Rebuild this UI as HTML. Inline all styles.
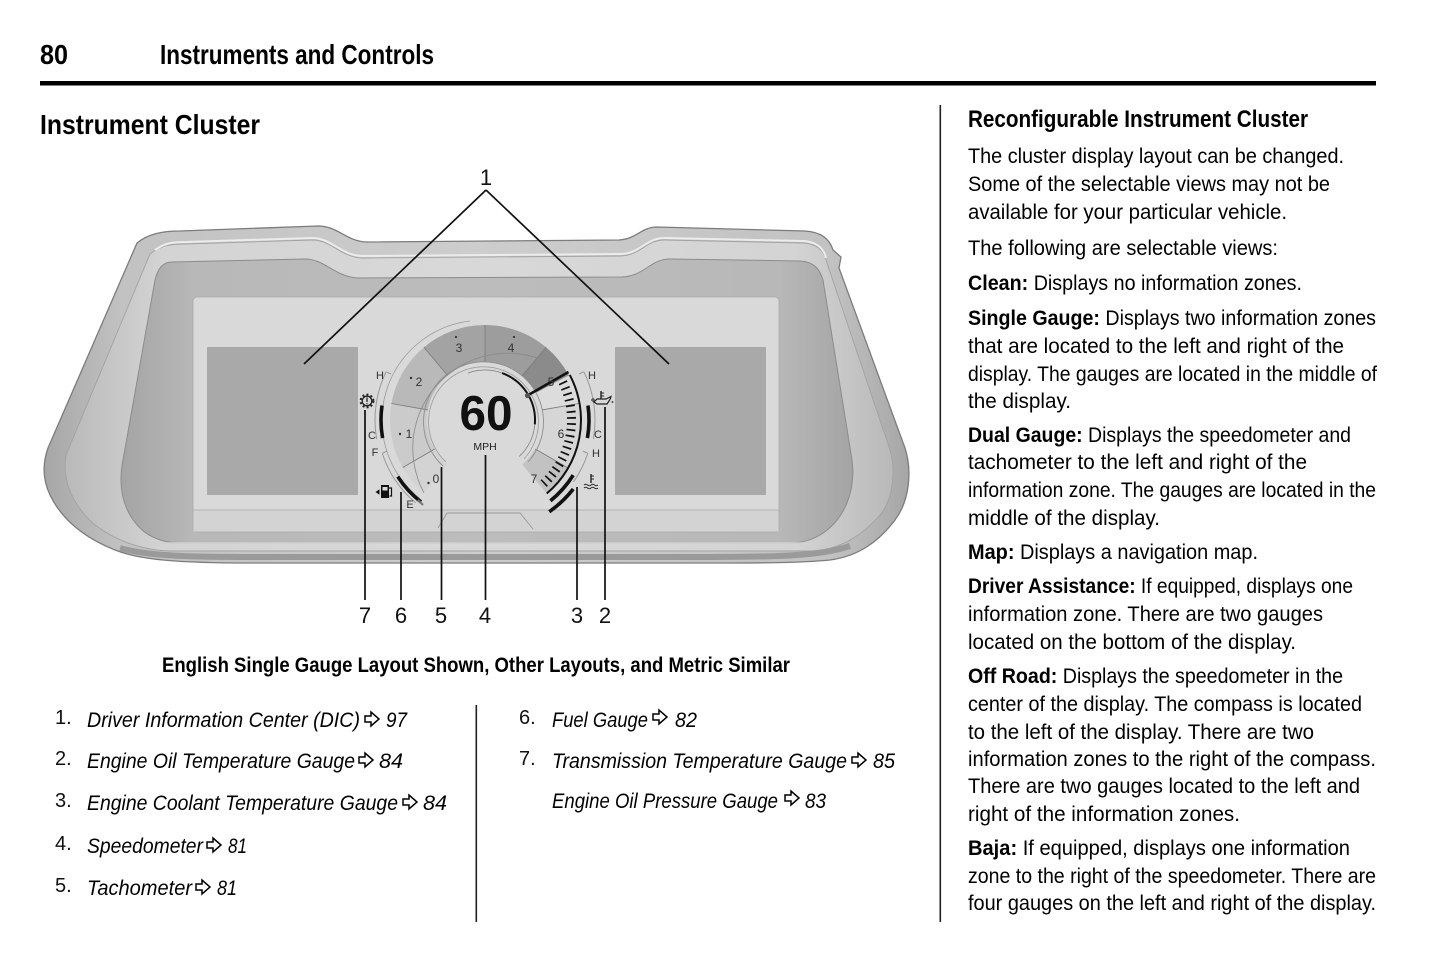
<!DOCTYPE html>
<html>
<head>
<meta charset="utf-8">
<style>
html,body{margin:0;padding:0;background:#fff;}
svg{display:block;}
text{font-family:"Liberation Sans", Arial, sans-serif;}
</style>
</head>
<body>
<svg width="1445" height="957" viewBox="0 0 1445 957" xmlns="http://www.w3.org/2000/svg">
<defs>
  <linearGradient id="bz" x1="0" y1="0" x2="1" y2="0">
    <stop offset="0" stop-color="#a6a6a6"/>
    <stop offset="0.09" stop-color="#c2c2c2"/>
    <stop offset="0.5" stop-color="#cdcdcd"/>
    <stop offset="0.91" stop-color="#c2c2c2"/>
    <stop offset="1" stop-color="#a6a6a6"/>
  </linearGradient>
  <linearGradient id="rim" x1="0" y1="0" x2="1" y2="0">
    <stop offset="0" stop-color="#b9b9b9"/>
    <stop offset="0.12" stop-color="#d4d4d4"/>
    <stop offset="0.5" stop-color="#d8d8d8"/>
    <stop offset="0.88" stop-color="#d4d4d4"/>
    <stop offset="1" stop-color="#b9b9b9"/>
  </linearGradient>
  <linearGradient id="cav" x1="0" y1="0" x2="1" y2="0">
    <stop offset="0" stop-color="#a4a4a4"/>
    <stop offset="0.1" stop-color="#b8b8b8"/>
    <stop offset="0.5" stop-color="#bcbcbc"/>
    <stop offset="0.9" stop-color="#b8b8b8"/>
    <stop offset="1" stop-color="#a4a4a4"/>
  </linearGradient>
</defs>

<!-- Header -->
<text x="40" y="64" font-size="28" font-weight="bold" textLength="28" lengthAdjust="spacingAndGlyphs">80</text>
<text x="160" y="64" font-size="28" font-weight="bold" textLength="274" lengthAdjust="spacingAndGlyphs">Instruments and Controls</text>
<rect x="40" y="81" width="1336" height="4.5" fill="#000"/>
<text x="40" y="134" font-size="28" font-weight="bold" textLength="220" lengthAdjust="spacingAndGlyphs">Instrument Cluster</text>

<!-- Column rules -->
<rect x="939.5" y="105" width="1.6" height="817" fill="#222"/>
<rect x="475.5" y="705" width="1.6" height="217" fill="#222"/>

<!-- ================= CLUSTER ILLUSTRATION ================= -->
<!-- outer bezel -->
<path d="M137,243 C148,234 162,231 180,231 L318,226 C338,226 346,241 366,242 L619,240 C637,239 641,227 657,227 L805,231 C822,232 830,240 833,250 L841,257 L839,268 L905,448 C912,470 910,500 895,520 C880,540 860,556 830,560 C800,563 760,563 700,563 L250,563 C180,563 140,560 115,550 C85,538 62,520 50,495 C42,478 43,462 48,448 Z" fill="url(#bz)" stroke="#7c7c7c" stroke-width="1.3"/>
<!-- rim -->
<path d="M150,254 C160,246 170,244 185,244 L312,240 C332,240 340,257 362,258 L620,256 C640,256 646,240 664,240 L803,243 C818,244 824,251 826,260 L890,450 C896,470 893,500 880,515 C865,532 845,548 815,551 L170,551 C140,550 115,540 95,525 C72,505 62,480 66,455 Z" fill="url(#rim)" stroke="#a2a2a2" stroke-width="0.9"/>
<path d="M155,250 C165,243 172,242 186,242 L312,238 C332,238 340,255 362,256 L620,254 C640,254 646,238 664,238 L803,241 C818,242 824,249 826,258" fill="none" stroke="#ececec" stroke-width="2"/>
<!-- bottom dark band -->
<path d="M120,548 C150,557 200,557 260,557 L700,557 C780,557 820,556 850,546" fill="none" stroke="#9a9a9a" stroke-width="6"/>
<!-- cavity -->
<path d="M172,262 L305,259 C325,259 335,277 358,278 L622,277 C645,276 650,259 670,259 L800,261 C815,262 820,270 823,280 L852,460 C856,490 845,520 820,535 C810,541 800,543 790,543 L180,543 C165,543 150,538 140,528 C122,510 118,485 123,460 L155,280 C158,268 163,262 172,262 Z" fill="url(#cav)" stroke="#8c8c8c" stroke-width="1"/>
<line x1="150" y1="543" x2="810" y2="543" stroke="#cfcfcf" stroke-width="1.5"/>

<!-- screen -->
<rect x="193" y="297" width="586" height="235" rx="4" fill="#d9d9d9" stroke="#a9a9a9" stroke-width="0.8"/>
<rect x="193.5" y="510" width="585" height="21.5" fill="#d3d3d3"/>
<line x1="193" y1="510" x2="779" y2="510" stroke="#b3b3b3" stroke-width="1"/>
<polyline points="438,528 447,513 520,513 533,529" fill="none" stroke="#9a9a9a" stroke-width="0.9"/>

<!-- DIC zones -->
<rect x="207" y="347" width="151" height="148" fill="#a9a9a9"/>
<rect x="615" y="347" width="151" height="148" fill="#a9a9a9"/>

<!-- tach band segments (center 485,420; r 58..95) -->
<path d="M423.93,492.77 A95,95 0 0 1 402.73,467.5 L434.77,449 A58,58 0 0 0 447.72,464.43 Z" fill="#d3d3d3"/>
<path d="M402.73,467.5 A95,95 0 0 1 391.44,403.51 L427.88,409.93 A58,58 0 0 0 434.77,449 Z" fill="#cbcbcb"/>
<path d="M391.44,403.51 A95,95 0 0 1 423.93,347.23 L447.72,375.57 A58,58 0 0 0 427.88,409.93 Z" fill="#b9b9b9"/>
<path d="M423.93,347.23 A95,95 0 0 1 485,325 L485,362 A58,58 0 0 0 447.72,375.57 Z" fill="#a3a3a3"/>
<path d="M485,325 A95,95 0 0 1 546.07,347.23 L522.28,375.57 A58,58 0 0 0 485,362 Z" fill="#9d9d9d"/>
<path d="M546.07,347.23 A95,95 0 0 1 568.88,375.40 L536.21,392.77 A58,58 0 0 0 522.28,375.57 Z" fill="#8b8b8b"/>
<path d="M568.88,375.40 A95,95 0 0 1 578.56,403.51 L542.12,409.93 A58,58 0 0 0 536.21,392.77 Z" fill="#dcdcdc"/>
<path d="M578.56,403.51 A95,95 0 0 1 567.27,467.5 L535.23,449 A58,58 0 0 0 542.12,409.93 Z" fill="#d6d6d6"/>
<path d="M567.27,467.5 A95,95 0 0 1 546.07,492.77 L522.28,464.43 A58,58 0 0 0 535.23,449 Z" fill="#c2c2c2"/>

<!-- dividers -->
<g stroke="#7a7a7a" stroke-width="0.8">
  <line x1="402.73" y1="467.5" x2="434.77" y2="449"/>
  <line x1="391.44" y1="403.51" x2="427.88" y2="409.93"/>
  <line x1="423.93" y1="347.23" x2="447.72" y2="375.57"/>
  <line x1="485" y1="325" x2="485" y2="362"/>
  <line x1="546.07" y1="347.23" x2="522.28" y2="375.57"/>
  <line x1="578.56" y1="403.51" x2="542.12" y2="409.93"/>
  <line x1="567.27" y1="467.5" x2="535.23" y2="449"/>
</g>
<!-- band outlines -->
<path d="M423.93,492.77 A95,95 0 0 1 568.88,375.40" fill="none" stroke="#8a8a8a" stroke-width="0.8"/>
<path d="M419,498 A100,100 0 0 1 470,321" fill="none" stroke="#9a9a9a" stroke-width="0.8"/>
<path d="M443,466 A60,60 0 1 1 528,462" fill="none" stroke="#8f8f8f" stroke-width="0.9"/>
<path d="M446,462 A55,55 0 1 1 524,459" fill="none" stroke="#a0a0a0" stroke-width="0.9"/>

<!-- redline hash marks -->
<path d="M562.75,382.08 A86.5,86.5 0 0 1 540.6,486.26" fill="none" stroke="#111" stroke-width="9" stroke-dasharray="1.7 4.35"/>
<!-- right outer black arc -->
<path d="M569.76,374.93 A96,96 0 0 1 546.71,493.54" fill="none" stroke="#111" stroke-width="2"/>

<!-- speed indicator arcs -->
<path d="M467.9,373.02 A50,50 0 0 1 502.1,373.02" fill="none" stroke="#8a8a8a" stroke-width="0.9"/>
<path d="M502.1,373.02 A50,50 0 0 1 534.81,424.36" fill="none" stroke="#111" stroke-width="2"/>
<path d="M534.81,424.36 A50,50 0 0 1 519.1,456.57" fill="none" stroke="#8a8a8a" stroke-width="0.9"/>
<!-- needle -->
<line x1="528.3" y1="395" x2="568.5" y2="372" stroke="#111" stroke-width="2.6"/>
<circle cx="527.5" cy="395.5" r="2.6" fill="#555"/>

<!-- tach labels -->
<g font-size="12" fill="#333" text-anchor="middle">
  <text x="436" y="483">0</text>
  <text x="409" y="438">1</text>
  <text x="419" y="386">2</text>
  <text x="459" y="352">3</text>
  <text x="511" y="352">4</text>
  <text x="551" y="386">5</text>
  <text x="561" y="438">6</text>
  <text x="534" y="483">7</text>
</g>
<g fill="#333">
  <circle cx="428.5" cy="483" r="1.2"/>
  <circle cx="400" cy="434" r="1.2"/>
  <circle cx="411" cy="378" r="1.2"/>
  <circle cx="456" cy="337" r="1.1"/>
  <circle cx="514" cy="337" r="1.1"/>
</g>

<!-- speed readout -->
<text x="486" y="430" font-size="49" font-weight="bold" text-anchor="middle" textLength="53" lengthAdjust="spacingAndGlyphs" fill="#111">60</text>
<text x="485" y="450" font-size="10.5" text-anchor="middle" fill="#222">MPH</text>

<!-- left gauges -->
<path d="M382.58,438.05 A104,104 0 0 1 382.01,405.52" fill="none" stroke="#111" stroke-width="3.6"/>
<path d="M376.67,439.10 A110,110 0 0 1 386.13,371.78" fill="none" stroke="#999" stroke-width="1"/>
<line x1="386.13" y1="371.78" x2="391" y2="374" stroke="#999" stroke-width="1"/>
<path d="M420.97,501.95 A104,104 0 0 1 397.78,476.64" fill="none" stroke="#111" stroke-width="3.6"/>
<path d="M415.58,502.73 A108,108 0 0 1 382.28,453.37" fill="none" stroke="#999" stroke-width="1"/>
<line x1="382.28" y1="453.37" x2="387" y2="451" stroke="#999" stroke-width="1"/>
<line x1="418" y1="500" x2="423" y2="505" stroke="#777" stroke-width="2"/>
<g font-size="11" fill="#333" text-anchor="middle">
  <text x="380" y="379">H</text>
  <text x="372" y="439">C</text>
  <text x="375" y="456">F</text>
  <text x="410" y="508">E</text>
</g>
<!-- trans temp icon -->
<circle cx="367" cy="401" r="4.8" fill="none" stroke="#222" stroke-width="1.3"/>
<circle cx="367" cy="401" r="6.4" fill="none" stroke="#222" stroke-width="2" stroke-dasharray="2 2.2"/>
<line x1="367" y1="397.5" x2="367" y2="402" stroke="#222" stroke-width="1.3"/>
<circle cx="367" cy="403.8" r="0.7" fill="#222"/>
<!-- fuel icon -->
<rect x="381" y="485" width="8" height="13" fill="#111"/>
<rect x="382.5" y="487" width="5" height="3.5" fill="#ddd"/>
<path d="M389,488 h2.5 v8 h-2" fill="none" stroke="#111" stroke-width="1.2"/>
<polygon points="375.5,492 379.5,489.3 379.5,494.7" fill="#111"/>

<!-- right gauges -->
<path d="M587.99,405.52 A104,104 0 0 1 587.42,438.05" fill="none" stroke="#111" stroke-width="3.6"/>
<path d="M583.87,371.78 A110,110 0 0 1 593.33,439.10" fill="none" stroke="#999" stroke-width="1"/>
<line x1="583.87" y1="371.78" x2="579" y2="374" stroke="#999" stroke-width="1"/>
<path d="M573.19,475.11 A104,104 0 0 1 550.45,500.82" fill="none" stroke="#111" stroke-width="3.6"/>
<path d="M573.26,488.96 A112,112 0 0 1 549.24,511.75" fill="none" stroke="#111" stroke-width="3.6"/>
<path d="M587.72,453.37 A108,108 0 0 1 573.47,481.95" fill="none" stroke="#999" stroke-width="1"/>
<line x1="587.72" y1="453.37" x2="583" y2="451" stroke="#999" stroke-width="1"/>
<g font-size="11" fill="#333" text-anchor="middle">
  <text x="592" y="379">H</text>
  <text x="598" y="438">C</text>
  <text x="596" y="457">H</text>
</g>
<!-- oil temp icon -->
<path d="M594,402 L597,399 L606,399 L611,396.5 L610,399.5 L607,404 L597,404 Z" fill="none" stroke="#222" stroke-width="1.2"/>
<line x1="601" y1="391" x2="601" y2="399" stroke="#222" stroke-width="1.4"/>
<line x1="601" y1="393" x2="604" y2="393" stroke="#222" stroke-width="1"/>
<line x1="601" y1="396" x2="604" y2="396" stroke="#222" stroke-width="1"/>
<circle cx="612.5" cy="402" r="0.9" fill="#222"/>
<circle cx="593" cy="400" r="1.2" fill="none" stroke="#222" stroke-width="0.8"/>
<!-- coolant icon -->
<line x1="591" y1="474" x2="591" y2="483" stroke="#222" stroke-width="1.4"/>
<line x1="591" y1="476" x2="594" y2="476" stroke="#222" stroke-width="1"/>
<line x1="591" y1="479" x2="594" y2="479" stroke="#222" stroke-width="1"/>
<path d="M584,485 q1.75,-1.5 3.5,0 t3.5,0 t3.5,0 t3.5,0" fill="none" stroke="#222" stroke-width="0.9"/>
<path d="M584,488 q1.75,-1.5 3.5,0 t3.5,0 t3.5,0 t3.5,0" fill="none" stroke="#222" stroke-width="0.9"/>

<!-- leader lines -->
<g stroke="#111" stroke-width="1.7">
  <line x1="486" y1="190" x2="304" y2="364"/>
  <line x1="486" y1="190" x2="669" y2="364"/>
  <line x1="365" y1="410" x2="365" y2="600"/>
  <line x1="401" y1="492" x2="401" y2="600"/>
  <line x1="441.5" y1="467" x2="441.5" y2="600"/>
  <line x1="485.5" y1="455" x2="485.5" y2="600"/>
  <line x1="577" y1="487" x2="577" y2="600"/>
  <line x1="605" y1="407" x2="605" y2="600"/>
</g>
<g font-size="22" fill="#111" text-anchor="middle">
  <text x="486" y="185">1</text>
  <text x="365" y="623">7</text>
  <text x="401" y="623">6</text>
  <text x="441" y="623">5</text>
  <text x="485" y="623">4</text>
  <text x="577" y="623">3</text>
  <text x="605" y="623">2</text>
</g>

<!-- caption -->
<text x="162" y="672" font-size="21" font-weight="bold" textLength="628" lengthAdjust="spacingAndGlyphs">English Single Gauge Layout Shown, Other Layouts, and Metric Similar</text>

<!-- left list -->
<g font-size="20" fill="#111">
  <text x="55" y="724">1.</text>
  <text x="55" y="765">2.</text>
  <text x="55" y="807">3.</text>
  <text x="55" y="850">4.</text>
  <text x="55" y="892">5.</text>
  <text x="519" y="724">6.</text>
  <text x="519" y="765">7.</text>
</g>
<g font-size="21" font-style="italic" fill="#000">
  <text x="87" y="727" textLength="273" lengthAdjust="spacingAndGlyphs">Driver Information Center (DIC)</text>
  <text x="386" y="727" textLength="21" lengthAdjust="spacingAndGlyphs">97</text>
  <text x="87" y="768" textLength="268" lengthAdjust="spacingAndGlyphs">Engine Oil Temperature Gauge</text>
  <text x="379" y="768" textLength="24" lengthAdjust="spacingAndGlyphs">84</text>
  <text x="87" y="810" textLength="311" lengthAdjust="spacingAndGlyphs">Engine Coolant Temperature Gauge</text>
  <text x="423" y="810" textLength="24" lengthAdjust="spacingAndGlyphs">84</text>
  <text x="87" y="853" textLength="116" lengthAdjust="spacingAndGlyphs">Speedometer</text>
  <text x="228" y="853" textLength="19" lengthAdjust="spacingAndGlyphs">81</text>
  <text x="87" y="895" textLength="105" lengthAdjust="spacingAndGlyphs">Tachometer</text>
  <text x="217" y="895" textLength="20" lengthAdjust="spacingAndGlyphs">81</text>
  <text x="552" y="727" textLength="96" lengthAdjust="spacingAndGlyphs">Fuel Gauge</text>
  <text x="675" y="727" textLength="22" lengthAdjust="spacingAndGlyphs">82</text>
  <text x="552" y="768" textLength="295" lengthAdjust="spacingAndGlyphs">Transmission Temperature Gauge</text>
  <text x="873" y="768" textLength="22" lengthAdjust="spacingAndGlyphs">85</text>
  <text x="552" y="808" textLength="226" lengthAdjust="spacingAndGlyphs">Engine Oil Pressure Gauge</text>
  <text x="805" y="808" textLength="21" lengthAdjust="spacingAndGlyphs">83</text>
</g>
<!-- reference arrows -->
<g fill="#fff" stroke="#000" stroke-width="1.5" stroke-linejoin="miter">
  <path transform="translate(364,711)" d="M1,5 L7,5 L7,1 L15,8 L7,15 L7,11 L1,11 Z"/>
  <path transform="translate(358,752)" d="M1,5 L7,5 L7,1 L15,8 L7,15 L7,11 L1,11 Z"/>
  <path transform="translate(402,794)" d="M1,5 L7,5 L7,1 L15,8 L7,15 L7,11 L1,11 Z"/>
  <path transform="translate(206,837)" d="M1,5 L7,5 L7,1 L15,8 L7,15 L7,11 L1,11 Z"/>
  <path transform="translate(195,879)" d="M1,5 L7,5 L7,1 L15,8 L7,15 L7,11 L1,11 Z"/>
  <path transform="translate(652,709)" d="M1,5 L7,5 L7,1 L15,8 L7,15 L7,11 L1,11 Z"/>
  <path transform="translate(851,752)" d="M1,5 L7,5 L7,1 L15,8 L7,15 L7,11 L1,11 Z"/>
  <path transform="translate(784,790)" d="M1,5 L7,5 L7,1 L15,8 L7,15 L7,11 L1,11 Z"/>
</g>

<!-- right column -->
<text x="968" y="127" font-size="24" font-weight="bold" textLength="340" lengthAdjust="spacingAndGlyphs">Reconfigurable Instrument Cluster</text>
<g font-size="21" fill="#000">
  <text x="968" y="163" textLength="376" lengthAdjust="spacingAndGlyphs">The cluster display layout can be changed.</text>
  <text x="968" y="191" textLength="362" lengthAdjust="spacingAndGlyphs">Some of the selectable views may not be</text>
  <text x="968" y="219" textLength="319" lengthAdjust="spacingAndGlyphs">available for your particular vehicle.</text>
  <text x="968" y="255" textLength="310" lengthAdjust="spacingAndGlyphs">The following are selectable views:</text>
  <text x="968" y="290" textLength="334" lengthAdjust="spacingAndGlyphs"><tspan font-weight="bold">Clean:</tspan> Displays no information zones.</text>
  <text x="968" y="325" textLength="408" lengthAdjust="spacingAndGlyphs"><tspan font-weight="bold">Single Gauge:</tspan> Displays two information zones</text>
  <text x="968" y="353" textLength="376" lengthAdjust="spacingAndGlyphs">that are located to the left and right of the</text>
  <text x="968" y="381" textLength="409" lengthAdjust="spacingAndGlyphs">display. The gauges are located in the middle of</text>
  <text x="968" y="408" textLength="103" lengthAdjust="spacingAndGlyphs">the display.</text>
  <text x="968" y="442" textLength="383" lengthAdjust="spacingAndGlyphs"><tspan font-weight="bold">Dual Gauge:</tspan> Displays the speedometer and</text>
  <text x="968" y="469" textLength="339" lengthAdjust="spacingAndGlyphs">tachometer to the left and right of the</text>
  <text x="968" y="497" textLength="408" lengthAdjust="spacingAndGlyphs">information zone. The gauges are located in the</text>
  <text x="968" y="525" textLength="192" lengthAdjust="spacingAndGlyphs">middle of the display.</text>
  <text x="968" y="559" textLength="290" lengthAdjust="spacingAndGlyphs"><tspan font-weight="bold">Map:</tspan> Displays a navigation map.</text>
  <text x="968" y="593" textLength="385" lengthAdjust="spacingAndGlyphs"><tspan font-weight="bold">Driver Assistance:</tspan> If equipped, displays one</text>
  <text x="968" y="621" textLength="355" lengthAdjust="spacingAndGlyphs">information zone. There are two gauges</text>
  <text x="968" y="649" textLength="328" lengthAdjust="spacingAndGlyphs">located on the bottom of the display.</text>
  <text x="968" y="683" textLength="375" lengthAdjust="spacingAndGlyphs"><tspan font-weight="bold">Off Road:</tspan> Displays the speedometer in the</text>
  <text x="968" y="711" textLength="394" lengthAdjust="spacingAndGlyphs">center of the display. The compass is located</text>
  <text x="968" y="739" textLength="346" lengthAdjust="spacingAndGlyphs">to the left of the display. There are two</text>
  <text x="968" y="766" textLength="408" lengthAdjust="spacingAndGlyphs">information zones to the right of the compass.</text>
  <text x="968" y="793" textLength="392" lengthAdjust="spacingAndGlyphs">There are two gauges located to the left and</text>
  <text x="968" y="821" textLength="272" lengthAdjust="spacingAndGlyphs">right of the information zones.</text>
  <text x="968" y="855" textLength="382" lengthAdjust="spacingAndGlyphs"><tspan font-weight="bold">Baja:</tspan> If equipped, displays one information</text>
  <text x="968" y="883" textLength="408" lengthAdjust="spacingAndGlyphs">zone to the right of the speedometer. There are</text>
  <text x="968" y="910" textLength="408" lengthAdjust="spacingAndGlyphs">four gauges on the left and right of the display.</text>
</g>
</svg>
</body>
</html>
